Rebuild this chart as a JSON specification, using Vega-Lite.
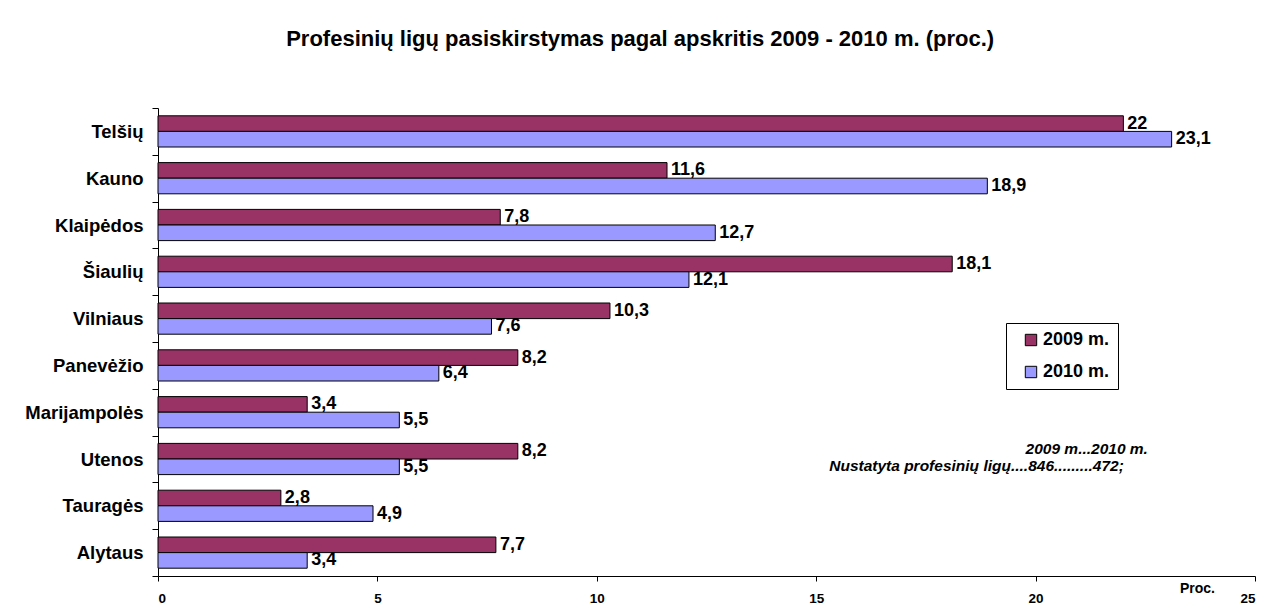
{
  "$schema": "https://vega.github.io/schema/vega-lite/v6.json",
  "width": 1097,
  "height": 468,
  "autosize": "none",
  "padding": {"left": 158, "top": 108, "right": 13, "bottom": 36},
  "background": "white",
  "config": {
    "view": {"stroke": null},
    "font": "Liberation Sans",
    "locale": {"number": {"decimal": ",", "thousands": " ", "grouping": [3], "currency": ["", " €"]}}
  },
  "title": {
    "text": "Profesinių ligų pasiskirstymas pagal apskritis 2009 - 2010 m. (proc.)",
    "fontSize": 22,
    "fontWeight": "bold",
    "font": "Liberation Sans",
    "color": "black",
    "anchor": "middle",
    "frame": "bounds",
    "offset": 48
  },
  "data": {
    "values": [
      {"region": "Telšių", "year": "2009 m.", "value": 22},
      {"region": "Telšių", "year": "2010 m.", "value": 23.1},
      {"region": "Kauno", "year": "2009 m.", "value": 11.6},
      {"region": "Kauno", "year": "2010 m.", "value": 18.9},
      {"region": "Klaipėdos", "year": "2009 m.", "value": 7.8},
      {"region": "Klaipėdos", "year": "2010 m.", "value": 12.7},
      {"region": "Šiaulių", "year": "2009 m.", "value": 18.1},
      {"region": "Šiaulių", "year": "2010 m.", "value": 12.1},
      {"region": "Vilniaus", "year": "2009 m.", "value": 10.3},
      {"region": "Vilniaus", "year": "2010 m.", "value": 7.6},
      {"region": "Panevėžio", "year": "2009 m.", "value": 8.2},
      {"region": "Panevėžio", "year": "2010 m.", "value": 6.4},
      {"region": "Marijampolės", "year": "2009 m.", "value": 3.4},
      {"region": "Marijampolės", "year": "2010 m.", "value": 5.5},
      {"region": "Utenos", "year": "2009 m.", "value": 8.2},
      {"region": "Utenos", "year": "2010 m.", "value": 5.5},
      {"region": "Tauragės", "year": "2009 m.", "value": 2.8},
      {"region": "Tauragės", "year": "2010 m.", "value": 4.9},
      {"region": "Alytaus", "year": "2009 m.", "value": 7.7},
      {"region": "Alytaus", "year": "2010 m.", "value": 3.4}
    ]
  },
  "layer": [
    {
      "mark": {"type": "bar", "stroke": "black", "strokeWidth": 1},
      "encoding": {
        "y": {
          "field": "region", "type": "nominal",
          "sort": ["Telšių", "Kauno", "Klaipėdos", "Šiaulių", "Vilniaus", "Panevėžio", "Marijampolės", "Utenos", "Tauragės", "Alytaus"],
          "scale": {"paddingInner": 0, "paddingOuter": 0},
          "axis": {
            "title": null, "tickBand": "extent", "labelFontSize": 18.5, "labelFontWeight": "bold",
            "labelColor": "black", "tickColor": "black", "domainColor": "black", "tickSize": 6, "labelPadding": 9
          }
        },
        "yOffset": {"field": "year", "type": "nominal", "scale": {"paddingInner": 0, "paddingOuter": 0.5}},
        "x": {
          "field": "value", "type": "quantitative",
          "scale": {"domain": [0, 25], "nice": false},
          "axis": {
            "values": [0, 5, 10, 15, 20, 25], "grid": false, "format": "d",
            "labelFontSize": 13.5, "labelFontWeight": "bold", "labelColor": "black",
            "tickColor": "black", "domainColor": "black", "tickSize": 5, "labelPadding": 10,
            "title": "Proc.", "titleFontSize": 14, "titleFontWeight": "bold", "titleColor": "black",
            "titleX": 1039, "titleY": 12, "titleAlign": "center", "titleBaseline": "middle"
          }
        },
        "color": {
          "field": "year", "type": "nominal",
          "scale": {"domain": ["2009 m.", "2010 m."], "range": ["#993366", "#9999FF"]},
          "legend": {
            "title": null, "orient": "none", "legendX": 848, "legendY": 215,
            "labelFontSize": 18, "labelFontWeight": "bold", "labelColor": "black",
            "symbolType": "square", "symbolSize": 130, "symbolStrokeColor": "black", "symbolStrokeWidth": 1,
            "symbolOpacity": 1,
            "strokeColor": "black", "fillColor": "white", "padding": 8, "rowPadding": 14,
            "symbolOffset": 8, "labelOffset": 3
          }
        }
      }
    },
    {
      "mark": {"type": "text", "align": "left", "baseline": "middle", "dx": 4, "fontSize": 18, "fontWeight": "bold", "color": "black"},
      "encoding": {
        "y": {"field": "region", "type": "nominal", "sort": ["Telšių", "Kauno", "Klaipėdos", "Šiaulių", "Vilniaus", "Panevėžio", "Marijampolės", "Utenos", "Tauragės", "Alytaus"]},
        "yOffset": {"field": "year", "type": "nominal"},
        "x": {"field": "value", "type": "quantitative"},
        "text": {"field": "value", "type": "quantitative", "format": "~g"}
      }
    },
    {
      "data": {"values": [{}]},
      "mark": {"type": "text", "text": "2009 m...2010 m.", "align": "right", "baseline": "middle", "dy": -10, "fontSize": 15.5, "fontWeight": "bold", "fontStyle": "italic", "color": "black"},
      "encoding": {
        "x": {"datum": 22.56, "type": "quantitative"},
        "y": {"datum": "Utenos", "type": "nominal"}
      }
    },
    {
      "data": {"values": [{}]},
      "mark": {"type": "text", "text": "Nustatyta profesinių ligų....846.........472;", "align": "right", "baseline": "middle", "dy": 7, "fontSize": 15.5, "fontWeight": "bold", "fontStyle": "italic", "color": "black"},
      "encoding": {
        "x": {"datum": 22.01, "type": "quantitative"},
        "y": {"datum": "Utenos", "type": "nominal"}
      }
    }
  ]
}
